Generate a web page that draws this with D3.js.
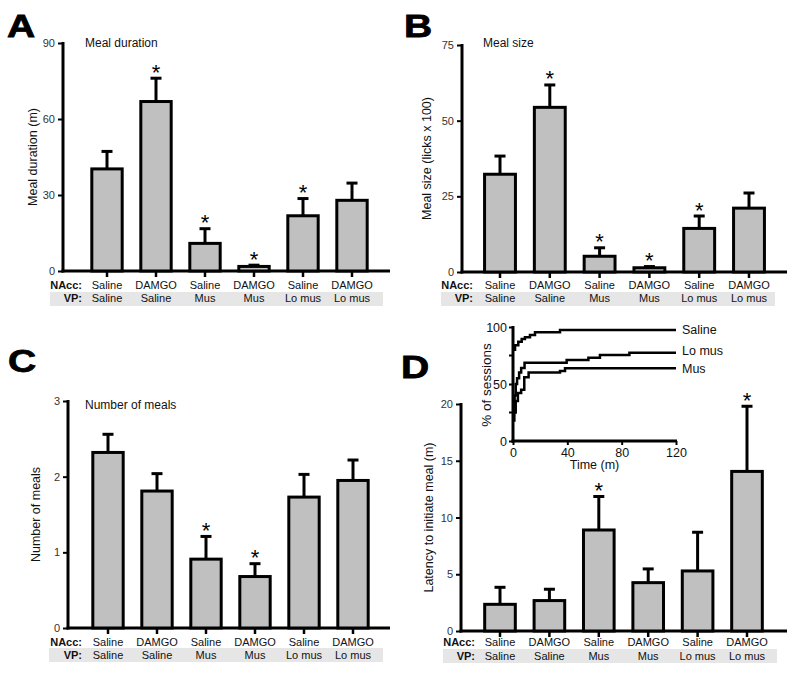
<!DOCTYPE html>
<html><head><meta charset="utf-8">
<script src="https://cdn.jsdelivr.net/npm/d3@7"></script>
<style>body{margin:0;background:#fff} svg{display:block}</style>
</head><body><svg id="chart" width="800" height="674"></svg>
<script>
// ---------- data ----------
const nacc = ["Saline","DAMGO","Saline","DAMGO","Saline","DAMGO"];
const vp = ["Saline","Saline","Mus","Mus","Lo mus","Lo mus"];

const durationMean = [40.3, 66.9, 10.9, 1.8, 21.8, 27.9];
const durationSem  = [6.9, 9.2, 5.8, 0.5, 6.8, 6.8];
const durationSig  = [false, true, true, true, true, false];
const durationTicks = [0, 30, 60, 90];

const sizeMean = [32.3, 54.4, 5.2, 1.4, 14.4, 21.1];
const sizeSem  = [6.0, 7.4, 2.8, 0.4, 4.1, 5.0];
const sizeSig  = [false, true, true, true, true, false];
const sizeTicks = [0, 25, 50, 75];

const mealsMean = [2.32, 1.81, 0.91, 0.68, 1.73, 1.95];
const mealsSem  = [0.24, 0.23, 0.30, 0.17, 0.30, 0.27];
const mealsSig  = [false, false, true, true, false, false];
const mealsTicks = [0, 1, 2, 3];

const latencyMean = [2.35, 2.68, 8.9, 4.26, 5.29, 14.06];
const latencySem  = [1.5, 1.0, 2.95, 1.21, 3.41, 5.74];
const latencySig  = [false, false, true, false, false, true];
const latencyTicks = [0, 5, 10, 15, 20];

// inset cumulative curves: [time (m), % of sessions]
const curveNames = ["Saline", "Lo mus", "Mus"];
const salineCurve = [[0,80],[1.5,84],[3.9,87],[6.4,89.5],[8.8,91],[12.5,93],[16.2,95.3],[34.6,97.4],[120,97.4]];
const lomusCurve = [[0,20],[0.5,30],[1.2,40],[2,50],[3,55],[4.5,60],[6,64],[8.5,68.7],[39.5,71],[55.5,73],[64,75.4],[85.7,77.5],[120,77.5]];
const musCurve = [[0,18],[1,25],[2,35],[3.6,42],[6,45],[8.3,56],[11.5,60],[34.6,61.4],[38.3,63.8],[120,63.8]];
const insetXTicks = [0, 40, 80, 120];
const insetYTicks = [0, 50, 100];
const insetYMinor = [25, 75];

// ---------- drawing ----------
const FONT = '"Liberation Sans", Arial, Helvetica, sans-serif';
const svg = d3.select("#chart");
const fmt = d3.format("d");

function letter(t, x, y) {
  svg.append("text").text(t)
    .attr("transform", `translate(${x},${y}) scale(1.22,1)`)
    .attr("font-family", FONT).attr("font-weight", "bold").attr("font-size", 32)
    .attr("fill", "#000").attr("stroke", "#000").attr("stroke-width", 0.8);
}

function barPanel(o) {
  const g = svg.append("g").attr("font-family", FONT);
  const y = d3.scaleLinear().domain([0, o.yMax]).range([o.y0, o.yTop]);
  const step = (o.c1 - o.c0) / 5;
  const x = d3.scaleBand().domain(d3.range(o.mean.length))
    .range([o.c0 - step / 2, o.c1 + step / 2]).paddingInner(0.38).paddingOuter(0.19);
  const cx = i => x(i) + x.bandwidth() / 2;

  // grey band for VP row
  g.append("rect").attr("x", o.band[0]).attr("y", o.band[1])
    .attr("width", o.band[2] - o.band[0]).attr("height", o.band[3] - o.band[1])
    .attr("fill", "#e6e6e6");

  // y axis
  const yg = g.append("g").attr("transform", `translate(${o.axisX},0)`)
    .call(d3.axisLeft(y).tickValues(o.ticks).tickFormat(fmt).tickSize(5).tickPadding(3).tickSizeOuter(0));
  yg.attr("font-family", FONT);
  yg.select(".domain").remove();
  yg.selectAll(".tick line").attr("stroke", "#000").attr("stroke-width", 2);
  yg.selectAll(".tick text").attr("font-size", 11).attr("fill", "#333");
  g.append("line").attr("x1", o.axisX).attr("x2", o.axisX)
    .attr("y1", o.y0 + 1.5).attr("y2", o.yTop - 1).attr("stroke", "#000").attr("stroke-width", 3);

  // x axis
  const xg = g.append("g").attr("transform", `translate(0,${o.y0})`)
    .call(d3.axisBottom(x).tickSize(6).tickFormat("").tickSizeOuter(0));
  xg.select(".domain").remove();
  xg.selectAll(".tick line").attr("stroke", "#000").attr("stroke-width", 2.5);
  g.append("line").attr("x1", o.axisX - 1.5).attr("x2", o.xRight)
    .attr("y1", o.y0).attr("y2", o.y0).attr("stroke", "#000").attr("stroke-width", 3);

  // error bars
  const eg = g.append("g");
  o.mean.forEach((m, i) => {
    const top = y(m + o.sem[i]);
    eg.append("line").attr("x1", cx(i)).attr("x2", cx(i)).attr("y1", y(m)).attr("y2", top)
      .attr("stroke", "#000").attr("stroke-width", 3);
    eg.append("line").attr("x1", cx(i) - 5.5).attr("x2", cx(i) + 5.5).attr("y1", top).attr("y2", top)
      .attr("stroke", "#000").attr("stroke-width", 3);
    if (o.sig[i]) {
      eg.append("text").text("*").attr("x", cx(i)).attr("y", top + 1.5)
        .attr("text-anchor", "middle").attr("font-size", 22).attr("fill", "#000");
    }
  });

  // bars
  g.append("g").selectAll("rect").data(o.mean).join("rect")
    .attr("x", (d, i) => x(i)).attr("width", x.bandwidth())
    .attr("y", d => y(d)).attr("height", d => o.y0 - y(d))
    .attr("fill", "#c0c0c0").attr("stroke", "#000").attr("stroke-width", 3);

  // category labels
  g.append("text").text("NAcc:").attr("x", o.labX).attr("y", o.row1).attr("text-anchor", "end")
    .attr("font-size", 11).attr("font-weight", "bold").attr("fill", "#111");
  g.append("text").text("VP:").attr("x", o.labX).attr("y", o.row2).attr("text-anchor", "end")
    .attr("font-size", 11).attr("font-weight", "bold").attr("fill", "#111");
  g.append("g").selectAll("text").data(nacc).join("text").text(d => d)
    .attr("x", (d, i) => cx(i)).attr("y", o.row1).attr("text-anchor", "middle")
    .attr("font-size", 11).attr("fill", "#111");
  g.append("g").selectAll("text").data(vp).join("text").text(d => d)
    .attr("x", (d, i) => cx(i)).attr("y", o.row2).attr("text-anchor", "middle")
    .attr("font-size", 11).attr("fill", "#111");

  // axis title
  g.append("text").text(o.ylabel)
    .attr("transform", `translate(${o.ylabX},${(o.y0 + o.yTop) / 2}) rotate(-90)`)
    .attr("text-anchor", "middle").attr("font-size", 12.5).attr("fill", "#111");
  if (o.title) {
    g.append("text").text(o.title).attr("x", o.titleX).attr("y", o.titleY)
      .attr("font-size", 12).attr("fill", "#111");
  }
}

barPanel({mean: durationMean, sem: durationSem, sig: durationSig, ticks: durationTicks, yMax: 90,
  axisX: 63, y0: 271, yTop: 43, xRight: 390, c0: 107, c1: 352,
  band: [50, 292, 383, 306], labX: 82, row1: 289, row2: 302,
  ylabel: "Meal duration (m)", ylabX: 37, title: "Meal duration", titleX: 85, titleY: 47});

barPanel({mean: sizeMean, sem: sizeSem, sig: sizeSig, ticks: sizeTicks, yMax: 75,
  axisX: 462, y0: 272, yTop: 45, xRight: 787, c0: 500, c1: 749,
  band: [441, 292, 775, 306], labX: 473, row1: 289, row2: 302,
  ylabel: "Meal size (licks x 100)", ylabX: 431, title: "Meal size", titleX: 483, titleY: 47});

barPanel({mean: mealsMean, sem: mealsSem, sig: mealsSig, ticks: mealsTicks, yMax: 3,
  axisX: 68, y0: 628, yTop: 401, xRight: 390, c0: 108, c1: 353,
  band: [49, 648, 383, 662], labX: 82, row1: 646, row2: 659,
  ylabel: "Number of meals", ylabX: 40, title: "Number of meals", titleX: 85, titleY: 409});

barPanel({mean: latencyMean, sem: latencySem, sig: latencySig, ticks: latencyTicks, yMax: 20,
  axisX: 461, y0: 631, yTop: 404, xRight: 787, c0: 500, c1: 747,
  band: [443, 649, 777, 663], labX: 475, row1: 646, row2: 660,
  ylabel: "Latency to initiate meal (m)", ylabX: 433, title: null});

// inset
(function inset() {
  const g = svg.append("g").attr("font-family", FONT);
  const x = d3.scaleLinear().domain([0, 120]).range([513, 676]);
  const y = d3.scaleLinear().domain([0, 100]).range([441, 327]);
  const curves = [salineCurve, lomusCurve, musCurve];
  const line = d3.line().x(d => x(d[0])).y(d => y(d[1])).curve(d3.curveStepAfter);
  g.selectAll("path.c").data(curves).join("path").attr("class", "c")
    .attr("d", line).attr("fill", "none").attr("stroke", "#000").attr("stroke-width", 2.5);

  const yg = g.append("g").attr("transform", "translate(513,0)")
    .call(d3.axisLeft(y).tickValues(insetYTicks).tickFormat(fmt).tickSize(4).tickPadding(2).tickSizeOuter(0));
  yg.attr("font-family", FONT);
  yg.select(".domain").remove();
  yg.selectAll(".tick line").attr("stroke", "#000").attr("stroke-width", 2);
  yg.selectAll(".tick text").attr("font-size", 12.5).attr("fill", "#111");
  g.selectAll("line.minor").data(insetYMinor).join("line").attr("class", "minor")
    .attr("x1", 509).attr("x2", 513).attr("y1", d => y(d)).attr("y2", d => y(d))
    .attr("stroke", "#000").attr("stroke-width", 2);

  const xg = g.append("g").attr("transform", "translate(0,441)")
    .call(d3.axisBottom(x).tickValues(insetXTicks).tickFormat(fmt).tickSize(4).tickPadding(3).tickSizeOuter(0));
  xg.attr("font-family", FONT);
  xg.select(".domain").remove();
  xg.selectAll(".tick line").attr("stroke", "#000").attr("stroke-width", 2);
  xg.selectAll(".tick text").attr("font-size", 12.5).attr("fill", "#111");

  g.append("line").attr("x1", 513).attr("x2", 513).attr("y1", 442.5).attr("y2", 326)
    .attr("stroke", "#000").attr("stroke-width", 3);
  g.append("line").attr("x1", 511.5).attr("x2", 677).attr("y1", 441).attr("y2", 441)
    .attr("stroke", "#000").attr("stroke-width", 3);

  g.append("text").text("Time (m)").attr("x", 594.5).attr("y", 469)
    .attr("text-anchor", "middle").attr("font-size", 12.5).attr("fill", "#111");
  g.append("text").text("% of sessions")
    .attr("transform", "translate(491,385) rotate(-90)")
    .attr("text-anchor", "middle").attr("font-size", 13.5).attr("fill", "#111");

  const labelY = [333.5, 355, 372.5];
  g.selectAll("text.lab").data(curveNames).join("text").attr("class", "lab")
    .text(d => d).attr("x", 682).attr("y", (d, i) => labelY[i])
    .attr("font-size", 12.5).attr("fill", "#111");
})();

letter("A", 7, 37);
letter("B", 404, 37);
letter("C", 8, 372);
letter("D", 401, 378);
</script>
</body></html>
